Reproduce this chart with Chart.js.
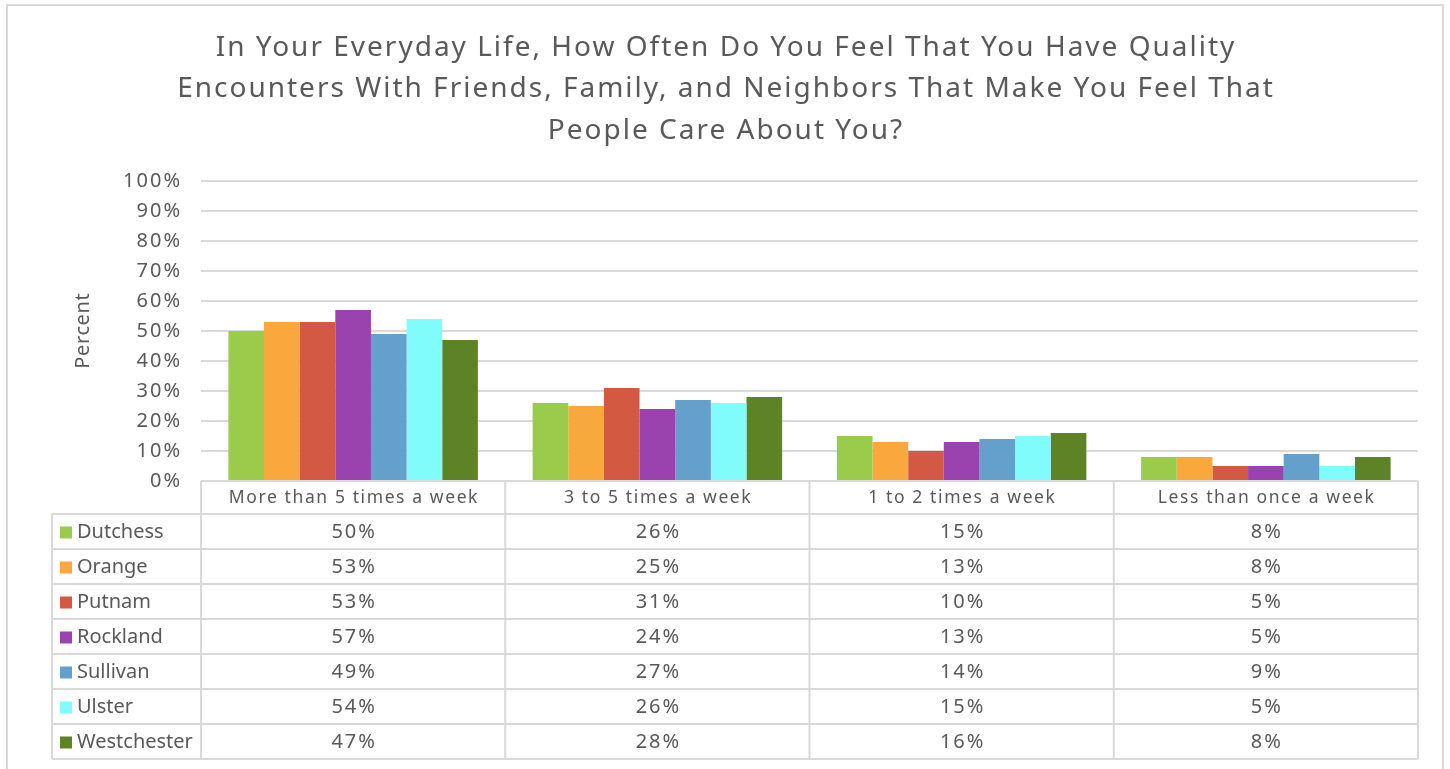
<!DOCTYPE html>
<html><head><meta charset="utf-8">
<script src="https://cdn.jsdelivr.net/npm/chart.js@4/dist/chart.umd.min.js"></script>
<style>html,body{margin:0;padding:0;background:#fff;overflow:hidden}</style>
</head><body>
<canvas id="c" width="1450" height="769" style="display:block;width:1450px;height:769px"></canvas>
<script>
const titleLines = ["In Your Everyday Life, How Often Do You Feel That You Have Quality",
  "Encounters With Friends, Family, and Neighbors That Make You Feel That",
  "People Care About You?"];
const yAxisTitle = "Percent";
const categories = ["More than 5 times a week","3 to 5 times a week","1 to 2 times a week","Less than once a week"];
const counties = ["Dutchess","Orange","Putnam","Rockland","Sullivan","Ulster","Westchester"];
const dutchess = [50,26,15,8];
const orange = [53,25,13,8];
const putnam = [53,31,10,5];
const rockland = [57,24,13,5];
const sullivan = [49,27,14,9];
const ulster = [54,26,15,5];
const westchester = [47,28,16,8];
const colors = ["#9BCB4B","#F9A83D","#D35942","#9A42AE","#64A0CB","#80FCFC","#5E8226"];
const yTickValues = [0,10,20,30,40,50,60,70,80,90,100];

const seriesValues = [dutchess, orange, putnam, rockland, sullivan, ulster, westchester];
const FONT = "'Noto Sans', sans-serif";
const TEXT = "#595959";
const LINE = "#d9d9d9";

function spacedText(ctx, text, x, y, spacing, align) {
  ctx.letterSpacing = spacing + "px";
  let dx = 0;
  if (align === 'center') dx = spacing / 2;
  else if (align === 'right') dx = spacing;
  ctx.textAlign = align;
  ctx.fillText(text, x + dx, y);
  ctx.letterSpacing = "0px";
}

const decorPlugin = {
  id: 'decor',
  beforeDraw(chart) {
    chart.ctx.letterSpacing = "2px";
  },
  beforeDatasetsDraw(chart) {
    chart.ctx.letterSpacing = "0px";
  },
  afterDraw(chart) {
    const ctx = chart.ctx;
    const ca = chart.chartArea;
    const xs = chart.scales.x;
    const n = categories.length;
    const colW = ca.width / n;
    const headTop = ca.bottom, headBot = 514, rowH = 35;
    const tableBot = headBot + rowH * counties.length;
    const leftX = 52;
    ctx.save();
    ctx.letterSpacing = "0px";
    // title
    ctx.fillStyle = TEXT;
    ctx.textBaseline = 'middle';
    ctx.font = "28px " + FONT;
    titleLines.forEach((t, i) => spacedText(ctx, t, 725, 48 + i * 41.5, 2, 'center'));
    // y axis title
    ctx.save();
    ctx.translate(83, 331);
    ctx.rotate(-Math.PI / 2);
    ctx.font = "20px " + FONT;
    spacedText(ctx, yAxisTitle, 0, 0, 0.6, 'center');
    ctx.restore();
    // table lines
    ctx.strokeStyle = LINE; ctx.lineWidth = 2;
    ctx.beginPath();
    ctx.moveTo(ca.left, headTop); ctx.lineTo(ca.right, headTop);
    for (let i = 0; i <= n; i++) {
      const x = ca.left + i * colW;
      ctx.moveTo(x, headTop); ctx.lineTo(x, tableBot);
    }
    ctx.moveTo(leftX, headBot); ctx.lineTo(leftX, tableBot);
    for (let k = 0; k <= counties.length; k++) {
      const y = headBot + k * rowH;
      ctx.moveTo(leftX, y); ctx.lineTo(ca.right, y);
    }
    ctx.stroke();
    // header text
    ctx.fillStyle = TEXT;
    ctx.font = "17.5px " + FONT;
    categories.forEach((c, i) => {
      spacedText(ctx, c, xs.getPixelForValue(i), (headTop + headBot) / 2 + 1, 1.6, 'center');
    });
    // rows
    counties.forEach((name, r) => {
      const cy = headBot + r * rowH + rowH / 2 + 1;
      ctx.fillStyle = colors[r];
      ctx.fillRect(60, cy - 6, 12, 12);
      ctx.fillStyle = TEXT;
      ctx.font = "20px " + FONT;
      spacedText(ctx, name, 77, cy, 0, 'left');
      seriesValues[r].forEach((v, i) => {
        spacedText(ctx, v + "%", xs.getPixelForValue(i), cy, 2, 'center');
      });
    });
    // outer border
    ctx.strokeStyle = LINE; ctx.lineWidth = 2;
    ctx.strokeRect(7, 5, 1436, 780);
    ctx.restore();
  }
};

new Chart(document.getElementById('c'), {
  type: 'bar',
  data: {
    labels: categories,
    datasets: counties.map((name, i) => ({
      label: name,
      data: seriesValues[i],
      backgroundColor: colors[i],
      borderWidth: 0,
      categoryPercentage: 0.82,
      barPercentage: 1.0
    }))
  },
  options: {
    responsive: false,
    animation: false,
    devicePixelRatio: 1,
    layout: { padding: { left: 67, right: 32, top: 181, bottom: 288 } },
    plugins: {
      legend: { display: false },
      tooltip: { enabled: false },
      title: { display: false }
    },
    scales: {
      x: { display: false },
      y: {
        min: 0, max: 100,
        afterBuildTicks: (s) => { s.ticks = yTickValues.map(v => ({ value: v })); },
        afterFit: (s) => { s.width = 134; },
        ticks: {
          color: TEXT, padding: 19,
          font: { family: FONT, size: 20 },
          callback: (v) => v + "%"
        },
        grid: { color: LINE, lineWidth: 2, drawTicks: false },
        border: { display: false },
        title: { display: false }
      }
    }
  },
  plugins: [decorPlugin]
});
</script>
</body></html>
